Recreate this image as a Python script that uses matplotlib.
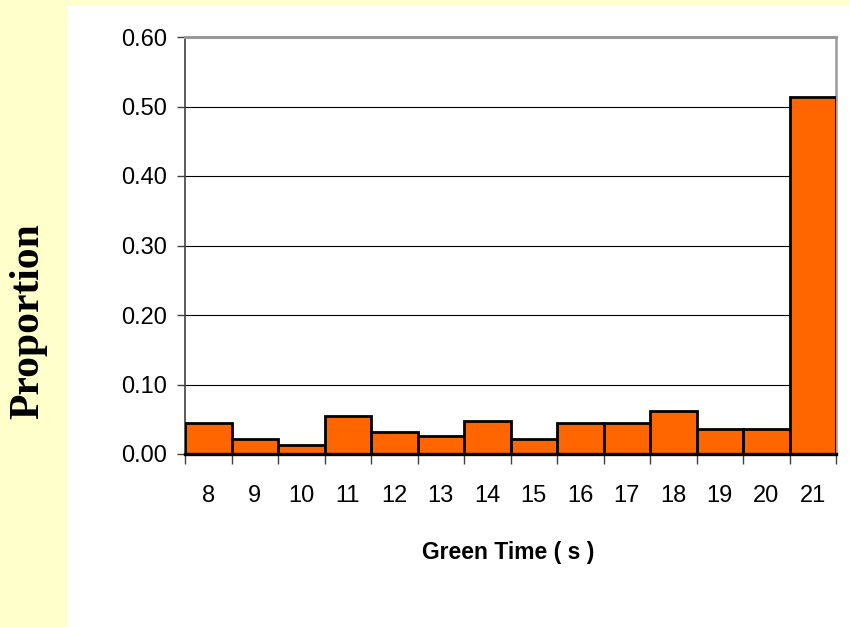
import numpy as np
import matplotlib
matplotlib.use("Agg")
import matplotlib.pyplot as plt
from matplotlib.patches import Rectangle

# datos
green_time = [8, 9, 10, 11, 12, 13, 14, 15, 16, 17, 18, 19, 20, 21]
proportion = [0.044, 0.022, 0.013, 0.054, 0.031, 0.026, 0.048,
              0.021, 0.044, 0.044, 0.062, 0.036, 0.036, 0.514]
y_ticks = [0.0, 0.1, 0.2, 0.3, 0.4, 0.5, 0.6]

narrow = ['Liberation Sans Narrow', 'Liberation Sans', 'DejaVu Sans']
plt.rcParams['font.family'] = narrow

fig = plt.figure(figsize=(8.49, 6.27), dpi=100)
fig.patch.set_facecolor('#FFFFCC')

# panel blanco detras del grafico
fig.patches.append(Rectangle((67 / 849, 0), 1 - 67 / 849, 1 - 6 / 627,
                             transform=fig.transFigure, facecolor='white',
                             edgecolor='none', zorder=-10))

ax = fig.add_axes([185 / 849, 1 - 454 / 627, (836 - 185) / 849, (454 - 37) / 627])
ax.set_facecolor('white')

ax.bar(green_time, proportion, width=1.0, color='#FF6600',
       edgecolor='black', linewidth=2.0, zorder=3)

ax.set_xlim(green_time[0] - 0.5, green_time[-1] + 0.5)
ax.set_ylim(0, 0.6)

# ticks entre categorias, etiquetas en el centro
ax.set_xticks(np.arange(green_time[0] - 0.5, green_time[-1] + 1, 1.0))
ax.set_xticklabels([])
ax.set_xticks(green_time, minor=True)
ax.set_xticklabels([str(g) for g in green_time], minor=True)
ax.tick_params(axis='x', which='major', direction='out', length=7,
               width=1, color='#404040')
ax.tick_params(axis='x', which='minor', length=0, pad=22, labelsize=17)

ax.set_yticks(y_ticks)
ax.set_yticklabels([f'{v:.2f}' for v in y_ticks])
ax.tick_params(axis='y', direction='out', length=6, width=1,
               color='#404040', pad=7, labelsize=17)

for v in y_ticks[1:-1]:
    ax.axhline(v, color='black', linewidth=0.8, zorder=1)

ax.spines['top'].set_color('#999999')
ax.spines['top'].set_linewidth(2.2)
ax.spines['right'].set_color('#999999')
ax.spines['right'].set_linewidth(1.8)
ax.spines['left'].set_color('#404040')
ax.spines['left'].set_linewidth(1.2)
ax.spines['bottom'].set_color('black')
ax.spines['bottom'].set_linewidth(2.4)
ax.spines['bottom'].set_zorder(4)

fig.text(508 / 849, 1 - 553 / 627, 'Green Time ( s )', ha='center', va='center',
         fontsize=16.5, fontweight='bold', family=narrow)
fig.text(28 / 849, 1 - 321 / 627, 'Proportion', rotation=90, ha='center',
         va='center', fontsize=30, fontweight='bold',
         family=['Liberation Serif', 'DejaVu Serif'])

fig.savefig('out.png', dpi=100, facecolor=fig.get_facecolor())
